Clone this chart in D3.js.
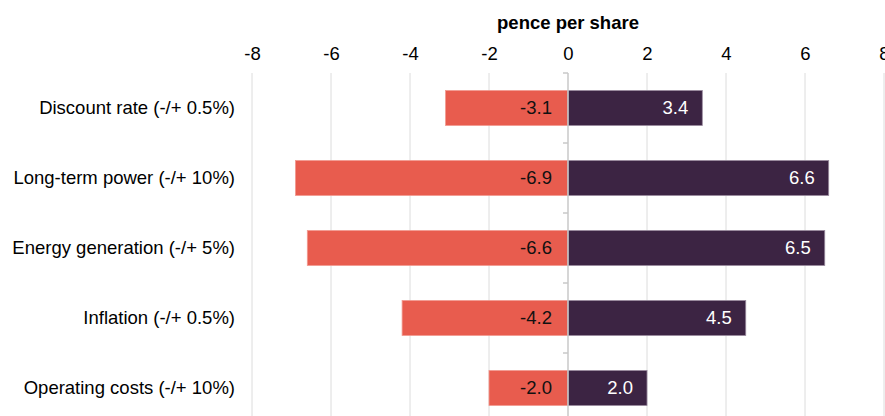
<!DOCTYPE html>
<html>
<head>
<meta charset="utf-8">
<script src="https://cdn.jsdelivr.net/npm/d3@7"></script>
<style>
  body { margin: 0; background: #fff; }
  svg { display: block; font-family: "Liberation Sans", Arial, sans-serif; }
</style>
</head>
<body>
<svg id="chart" width="885" height="416"></svg>
<script>
// sensitivity data, pence per share
var categories = ["Discount rate (-/+ 0.5%)", "Long-term power (-/+ 10%)", "Energy generation (-/+ 5%)", "Inflation (-/+ 0.5%)", "Operating costs (-/+ 10%)"];
var downValues = [-3.1, -6.9, -6.6, -4.2, -2.0];
var upValues = [3.4, 6.6, 6.5, 4.5, 2.0];
var tickValues = [-8, -6, -4, -2, 0, 2, 4, 6, 8];

var svg = d3.select("#chart");
var plotTop = 73, plotBottom = 416;
var fontSize = 18.5;

var xScale = d3.scaleLinear().domain([-8, 8]).range([252, 884]);
var yScale = d3.scaleBand().domain(categories).range([plotTop, plotTop + 70 * categories.length])
    .paddingInner(0.5).paddingOuter(0.25);

// gridlines
svg.append("g").selectAll("line")
    .data(tickValues.filter(function(d) { return d !== 0; }))
    .enter().append("line")
    .attr("x1", function(d) { return xScale(d); })
    .attr("x2", function(d) { return xScale(d); })
    .attr("y1", plotTop).attr("y2", plotBottom)
    .attr("stroke", "#dcdcdc").attr("stroke-width", 1);

// top axis labels
var xAxis = svg.append("g").attr("transform", "translate(0," + 66 + ")")
    .call(d3.axisTop(xScale).tickValues(tickValues).tickSize(0).tickPadding(6)
        .tickFormat(function(d) { return String(d); }));
xAxis.select(".domain").remove();
xAxis.selectAll("text").attr("font-size", fontSize).attr("fill", "#000")
    .style("font-family", "'Liberation Sans', Arial, sans-serif");

svg.append("text").attr("x", xScale(0)).attr("y", 29)
    .attr("text-anchor", "middle").attr("font-size", fontSize).attr("font-weight", "bold")
    .text("pence per share");

var row = function(d, i) { return yScale(categories[i]); };

svg.append("g").selectAll("rect")
    .data(downValues).enter().append("rect")
    .attr("x", function(d) { return xScale(d); })
    .attr("y", row)
    .attr("width", function(d) { return xScale(0) - xScale(d); })
    .attr("height", yScale.bandwidth())
    .attr("fill", "#e85c4e").attr("stroke", "#f29a90").attr("stroke-width", 0.8);

svg.append("g").selectAll("rect")
    .data(upValues).enter().append("rect")
    .attr("x", xScale(0))
    .attr("y", row)
    .attr("width", function(d) { return xScale(d) - xScale(0); })
    .attr("height", yScale.bandwidth())
    .attr("fill", "#3c2443").attr("stroke", "#9a8a9e").attr("stroke-width", 0.8);

// center axis with category ticks
svg.append("line")
    .attr("x1", xScale(0)).attr("x2", xScale(0))
    .attr("y1", plotTop).attr("y2", plotBottom)
    .attr("stroke", "#c8c8c8").attr("stroke-width", 1.5);
svg.append("g").selectAll("line")
    .data(d3.range(categories.length))
    .enter().append("line")
    .attr("x1", xScale(0) - 5).attr("x2", xScale(0))
    .attr("y1", function(i) { return plotTop + 70 * i; })
    .attr("y2", function(i) { return plotTop + 70 * i; })
    .attr("stroke", "#c8c8c8").attr("stroke-width", 1.5);

// category labels
svg.append("g").selectAll("text")
    .data(categories).enter().append("text")
    .attr("x", 235)
    .attr("y", function(d) { return yScale(d) + yScale.bandwidth() / 2; })
    .attr("dy", "0.35em").attr("text-anchor", "end").attr("font-size", fontSize)
    .text(function(d) { return d; });

// value labels
svg.append("g").selectAll("text")
    .data(downValues).enter().append("text")
    .attr("x", xScale(0) - 16)
    .attr("y", function(d, i) { return row(d, i) + yScale.bandwidth() / 2; })
    .attr("dy", "0.35em").attr("text-anchor", "end").attr("font-size", fontSize).attr("fill", "#111")
    .text(function(d) { return d.toFixed(1); });

svg.append("g").selectAll("text")
    .data(upValues).enter().append("text")
    .attr("x", function(d) { return xScale(d) - 14; })
    .attr("y", function(d, i) { return row(d, i) + yScale.bandwidth() / 2; })
    .attr("dy", "0.35em").attr("text-anchor", "end").attr("font-size", fontSize).attr("fill", "#fff")
    .text(function(d) { return d.toFixed(1); });
</script>
</body>
</html>
